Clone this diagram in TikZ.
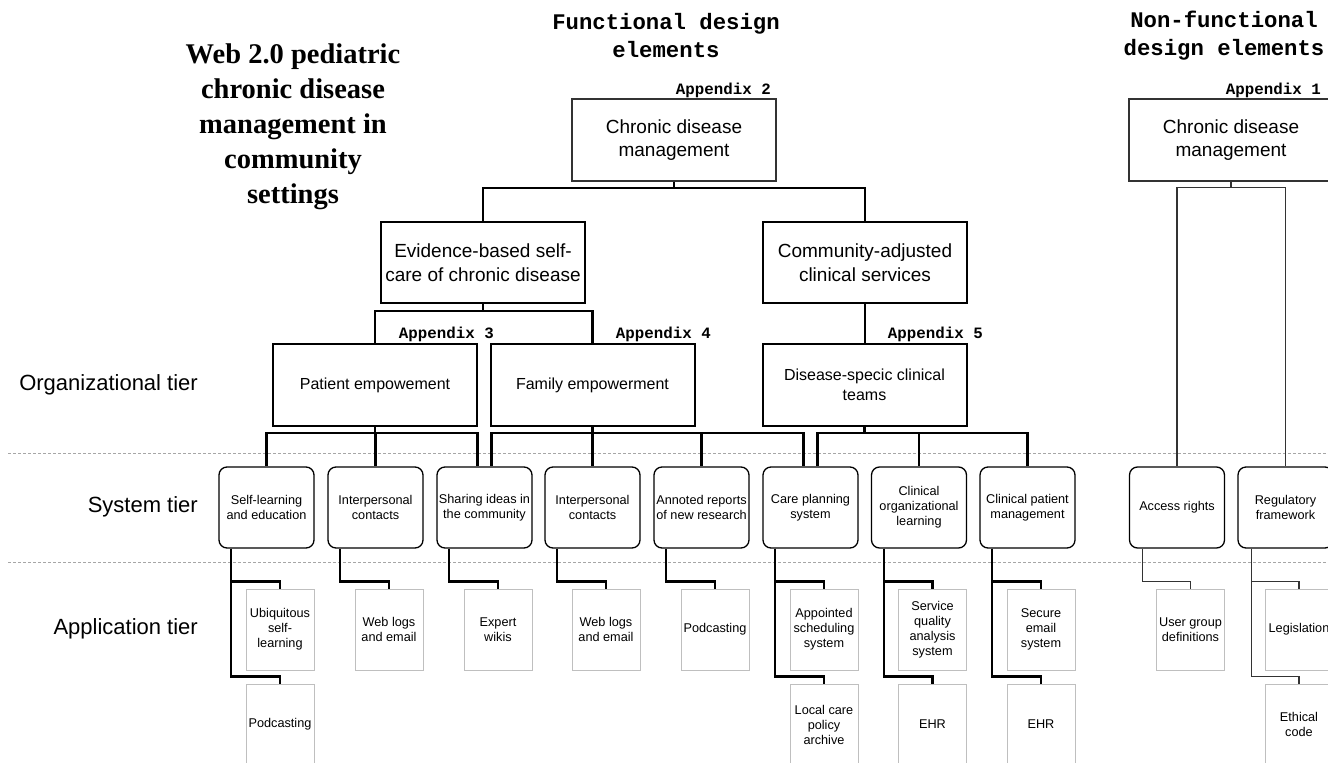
\documentclass[tikz,border=0pt]{standalone}
\usepackage{fontspec}
\setmainfont{Liberation Sans}
\setmonofont{Liberation Mono}
\newfontfamily\titlefont{Liberation Serif}

\begin{document}
\begin{tikzpicture}[x=1pt, y=-1pt,
  topbox/.style={draw=black!80, line width=1.2pt, minimum width=204pt, minimum height=82pt, align=center, inner sep=0pt, font=\fontsize{19pt}{23.5pt}\selectfont},
  midbox/.style={topbox, draw=black, line width=2pt, minimum height=81pt},
  orgbox/.style={midbox, minimum height=82pt, font=\fontsize{16pt}{19.5pt}\selectfont},
  sysbox/.style={draw, rounded corners=8pt, line width=1.3pt, minimum width=95pt, minimum height=81pt, align=center, inner sep=0pt, font=\fontsize{12.7pt}{15pt}\selectfont},
  appbox/.style={draw=black!25, line width=1pt, minimum width=68pt, minimum height=81pt, align=center, inner sep=0pt, font=\fontsize{12.7pt}{15pt}\selectfont},
  conn/.style={line width=2.2pt},
  nfconn/.style={line width=1.2pt, draw=black!80},
  tierline/.style={dash pattern=on 3pt off 2pt, draw=black!35, line width=0.8pt},
  tierlabel/.style={anchor=east, inner sep=0pt, font=\fontsize{22pt}{26pt}\selectfont},
  appx/.style={anchor=east, inner sep=0pt, font=\ttfamily\bfseries\fontsize{15.8pt}{18pt}\selectfont},
  heading/.style={align=center, inner sep=0pt, font=\ttfamily\bfseries\fontsize{22.3pt}{28pt}\selectfont}]
\useasboundingbox (0,0) rectangle (1328,763);

% tiers
\draw[tierline] (8,453) -- (1328,453);
\draw[tierline] (8,562) -- (1328,562);
\node[tierlabel] (orgtier) at (198,385) {Organizational tier};
\node[tierlabel] (systier) at (198,507) {System tier};
\node[tierlabel] (apptier) at (198,629) {Application tier};

% titles
\node[align=center, inner sep=0pt, font=\titlefont\bfseries\fontsize{28.5pt}{35pt}\selectfont] (title) at (293,127) {Web 2.0 pediatric\\chronic disease\\management in\\community\\settings};
\node[heading] (fhead) at (666,36) {Functional design\\elements};
\node[heading] (nfhead) at (1224,36) {Non-functional\\design elements};

% functional tree
\node[topbox] (cdm) at (674,140) {Chronic disease\\management};
\node[midbox] (ebs) at (483,262.5) {Evidence-based self-\\care of chronic disease};
\node[midbox] (cac) at (865,262.5) {Community-adjusted\\clinical services};
\node[orgbox] (pat) at (375,385) {Patient empowement};
\node[orgbox] (fam) at (592.5,385) {Family empowerment};
\node[orgbox] (dis) at (864.5,385) {Disease-specic clinical\\teams};

% non-functional tree
\node[topbox] (ncdm) at (1231,140) {Chronic disease\\management};

\node[appx] (ap2) at (771,90) {Appendix 2};
\node[appx] (ap1) at (1321,90) {Appendix 1};
\node[appx] (ap3) at (494,334) {Appendix 3};
\node[appx] (ap4) at (711,334) {Appendix 4};
\node[appx] (ap5) at (983,334) {Appendix 5};

% system tier
\node[sysbox] (s1) at (266.5,507.5) {Self-learning\\and education};
\node[sysbox] (s2) at (375.5,507.5) {Interpersonal\\contacts};
\node[sysbox] (s3) at (484.5,507.5) {Sharing ideas in\\the community};
\node[sysbox] (s4) at (592.5,507.5) {Interpersonal\\contacts};
\node[sysbox] (s5) at (701.5,507.5) {Annoted reports\\of new research};
\node[sysbox] (s6) at (810.5,507.5) {Care planning\\system};
\node[sysbox] (s7) at (919,507.5) {Clinical\\organizational\\learning};
\node[sysbox] (s8) at (1027.5,507.5) {Clinical patient\\management};
\node[sysbox] (s9) at (1177,507.5) {Access rights};
\node[sysbox] (s10) at (1285.5,507.5) {Regulatory\\framework};

% application tier
\node[appbox] (a1) at (280,629.5) {Ubiquitous\\self-\\learning};
\node[appbox] (b1) at (280,724.5) {Podcasting};
\node[appbox] (a2) at (389,629.5) {Web logs\\and email};
\node[appbox] (a3) at (498,629.5) {Expert\\wikis};
\node[appbox] (a4) at (606,629.5) {Web logs\\and email};
\node[appbox] (a5) at (715,629.5) {Podcasting};
\node[appbox] (a6) at (824,629.5) {Appointed\\scheduling\\system};
\node[appbox] (b6) at (824,724.5) {Local care\\policy\\archive};
\node[appbox] (a7) at (932.5,629.5) {Service\\quality\\analysis\\system};
\node[appbox] (b7) at (932.5,724.5) {EHR};
\node[appbox] (a8) at (1041,629.5) {Secure\\email\\system};
\node[appbox] (b8) at (1041,724.5) {EHR};
\node[appbox] (a9) at (1190.5,629.5) {User group\\definitions};
\node[appbox] (a10) at (1299,629.5) {Legislation};
\node[appbox] (b10) at (1299,724.5) {Ethical\\code};

% connectors
\draw[conn] (cdm.south) -- ++(0,6) -| (ebs.north);
\draw[conn] (cdm.south) -- ++(0,6) -| (cac.north);
\draw[conn] (ebs.south) -- ++(0,7) -| (pat.north);
\draw[conn] (ebs.south) -- ++(0,7) -| (fam.north);
\draw[conn] (cac.south) -- (cac.south |- dis.north);

\draw[conn] (pat.south) -- ++(0,6) -| (s1.north);
\draw[conn] (pat.south) -- ++(0,6) -| (s2.north);
\draw[conn] (pat.south) -- ++(0,6) -| ([xshift=-7pt]s3.north);
\draw[conn] (fam.south) -- ++(0,6) -| ([xshift=7pt]s3.north);
\draw[conn] (fam.south) -- ++(0,6) -| (s4.north);
\draw[conn] (fam.south) -- ++(0,6) -| (s5.north);
\draw[conn] (fam.south) -- ++(0,6) -| ([xshift=-7pt]s6.north);
\draw[conn] (dis.south) -- ++(0,6) -| ([xshift=7pt]s6.north);
\draw[conn] (dis.south) -- ++(0,6) -| (s7.north);
\draw[conn] (dis.south) -- ++(0,6) -| (s8.north);

\draw[nfconn] (ncdm.south) -- ++(0,6) -| (s9.north);
\draw[nfconn] (ncdm.south) -- ++(0,6) -| (s10.north);

\draw[conn] ([xshift=13pt]s1.south west) |- ([yshift=7pt]a1.north) -- (a1.north);
\draw[conn] ([xshift=13pt]s1.south west) |- ([yshift=7pt]b1.north) -- (b1.north);
\draw[conn] ([xshift=13pt]s2.south west) |- ([yshift=7pt]a2.north) -- (a2.north);
\draw[conn] ([xshift=13pt]s3.south west) |- ([yshift=7pt]a3.north) -- (a3.north);
\draw[conn] ([xshift=13pt]s4.south west) |- ([yshift=7pt]a4.north) -- (a4.north);
\draw[conn] ([xshift=13pt]s5.south west) |- ([yshift=7pt]a5.north) -- (a5.north);
\draw[conn] ([xshift=13pt]s6.south west) |- ([yshift=7pt]a6.north) -- (a6.north);
\draw[conn] ([xshift=13pt]s6.south west) |- ([yshift=7pt]b6.north) -- (b6.north);
\draw[conn] ([xshift=13pt]s7.south west) |- ([yshift=7pt]a7.north) -- (a7.north);
\draw[conn] ([xshift=13pt]s7.south west) |- ([yshift=7pt]b7.north) -- (b7.north);
\draw[conn] ([xshift=13pt]s8.south west) |- ([yshift=7pt]a8.north) -- (a8.north);
\draw[conn] ([xshift=13pt]s8.south west) |- ([yshift=7pt]b8.north) -- (b8.north);
\draw[nfconn] ([xshift=14pt]s9.south west) |- ([yshift=7pt]a9.north) -- (a9.north);
\draw[nfconn] ([xshift=14pt]s10.south west) |- ([yshift=7pt]a10.north) -- (a10.north);
\draw[nfconn] ([xshift=14pt]s10.south west) |- ([yshift=7pt]b10.north) -- (b10.north);
\end{tikzpicture}
\end{document}
